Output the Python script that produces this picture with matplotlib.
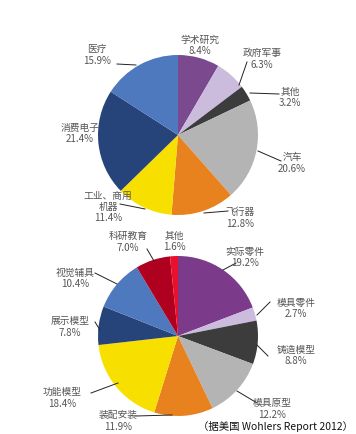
import matplotlib
matplotlib.use('Agg')
import matplotlib.pyplot as plt

plt.rcParams['font.family'] = ['Noto Sans CJK SC', 'DejaVu Sans']

''' data '''
# upper pie: industries
top_labels = ['学术研究', '政府军事', '其他', '汽车', '飞行器', '工业、商用\n机器', '消费电子', '医疗']
top_values = [8.4, 6.3, 3.2, 20.6, 12.8, 11.4, 21.4, 15.9]
top_colors = ['#7B4A8E', '#CBBCDD', '#3C3C3C', '#B4B4B4', '#E8821E', '#F7E000', '#26437A', '#4E79BE']

# lower pie: applications
bot_labels = ['实际零件', '模具零件', '铸造模型', '模具原型', '装配安装', '功能模型', '展示模型', '视觉辅具', '科研教育', '其他']
bot_values = [19.2, 2.7, 8.8, 12.2, 11.9, 18.4, 7.8, 10.4, 7.0, 1.6]
bot_colors = ['#7B3A8A', '#CBBCDD', '#3C3C3C', '#B4B4B4', '#E8821E', '#F7E000', '#26437A', '#4E79BE', '#B00020', '#E8102A']

W, H = 356, 435

# label anchor (x, y) in pixels, leader line (x0, y0, x1, y1)
top_text = [(200, 45, None),
            (262, 59, (239, 86, 247, 63)),
            (290, 97, (250, 94, 279, 95)),
            (292, 163, (258, 152, 281, 162)),
            (240, 218, (204, 214, 228, 212)),
            (108, 207, (120, 205, 145, 210)),
            (80, 133, None),
            (97, 55, (117, 65, 136, 66))]
bot_text = [(245, 257, (223, 271, 236, 264)),
            (296, 308, (257, 316, 270, 303)),
            (296, 355, (257, 346, 268, 357)),
            (272, 409, (237, 392, 257, 404)),
            (118, 421, (136, 417, 172, 416)),
            (62, 398, (91, 394, 118, 384)),
            (70, 327, (95, 323, 100, 331)),
            (75, 278, (95, 274, 117, 285)),
            (128, 242, (147, 250, 154, 262)),
            (174, 241, None)]

fig = plt.figure(figsize=(W / 100, H / 100), dpi=100)


def pie_axes(cx, cy, r):
    return fig.add_axes([(cx - r) / W, (H - cy - r) / H, 2 * r / W, 2 * r / H])


ax1 = pie_axes(178, 136, 80)
ax1.pie(top_values, colors=top_colors, startangle=90, counterclock=False,
        wedgeprops=dict(linewidth=0))
ax1.set_xlim(-1, 1)
ax1.set_ylim(-1, 1)
ax1.axis('off')

ax2 = pie_axes(178, 337, 80)
ax2.pie(bot_values, colors=bot_colors, startangle=90, counterclock=False,
        wedgeprops=dict(linewidth=0))
ax2.set_xlim(-1, 1)
ax2.set_ylim(-1, 1)
ax2.axis('off')

# overlay for labels in pixel coordinates
ov = fig.add_axes([0, 0, 1, 1])
ov.set_xlim(0, W)
ov.set_ylim(H, 0)
ov.axis('off')
ov.patch.set_alpha(0)

tc = '#555555'
for labels, values, pos in [(top_labels, top_values, top_text), (bot_labels, bot_values, bot_text)]:
    for lab, val, (x, y, line) in zip(labels, values, pos):
        ov.text(x, y, '{}\n{:.1f}%'.format(lab, val), ha='center', va='center',
                fontsize=7, color=tc, linespacing=1.15)
        if line is not None:
            ov.plot([line[0], line[2]], [line[1], line[3]], color='#222222', lw=0.7)

ov.text(353, 427, '（据美国 Wohlers Report 2012）', ha='right', va='center',
        fontsize=7.5, color='#111111')

fig.savefig('out.png', dpi=100, facecolor='white')
